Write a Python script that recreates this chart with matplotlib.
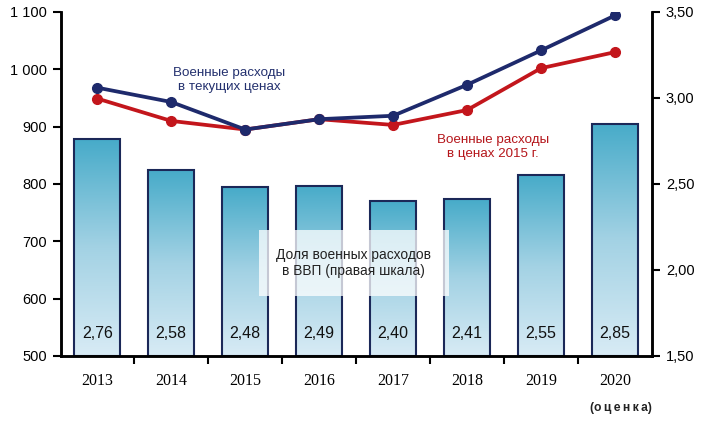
import numpy as np
import matplotlib.pyplot as plt
from matplotlib.colors import LinearSegmentedColormap

years = ['2013', '2014', '2015', '2016', '2017', '2018', '2019', '2020']
share_gdp = [2.76, 2.58, 2.48, 2.49, 2.40, 2.41, 2.55, 2.85]
share_labels = ['2,76', '2,58', '2,48', '2,49', '2,40', '2,41', '2,55', '2,85']
spend_current = [968, 943, 895, 913, 919, 973, 1033, 1094]
spend_2015 = [949, 910, 895, 913, 903, 929, 1002, 1030]

left_ticks = [500, 600, 700, 800, 900, 1000, 1100]
left_labels = ['500', '600', '700', '800', '900', '1 000', '1 100']
right_ticks = [1.5, 2.0, 2.5, 3.0, 3.5]
right_labels = ['1,50', '2,00', '2,50', '3,00', '3,50']

plt.rcParams['font.family'] = ['Liberation Sans', 'DejaVu Sans']

fig = plt.figure(figsize=(7.02, 4.22), dpi=100)
ax = fig.add_axes([0.0869, 0.1564, 0.8419, 0.8152])   # bars, right scale
ax2 = ax.twinx()                                      # lines, left scale

x = np.arange(len(years))
w = 0.62
cmap = LinearSegmentedColormap.from_list('bar', ['#d8ebf5', '#a3d2e4', '#47abc9'])
grad = np.linspace(0, 1, 256).reshape(-1, 1)
for xi, v in zip(x, share_gdp):
    ax.imshow(grad, extent=(xi - w / 2, xi + w / 2, 1.5, v), origin='lower',
              cmap=cmap, aspect='auto', zorder=1)
ax.bar(x, np.array(share_gdp) - 1.5, bottom=1.5, width=w, fill=False,
       edgecolor='#1b2858', linewidth=1.5, zorder=2)
for xi, lab in zip(x, share_labels):
    ax.text(xi, 1.59, lab, ha='center', va='bottom', fontsize=11.5, color='#111111', zorder=3)

ax.set_xlim(-0.49, 7.5)
ax.set_ylim(1.5, 3.5)
ax.yaxis.tick_right()
ax.set_yticks(right_ticks)
ax.set_yticklabels(right_labels, fontsize=10.5)
ax.set_xticks(x)
ax.set_xticklabels(years, fontfamily='Liberation Serif', fontsize=11.5)
ax.set_xticks(np.arange(0.5, 7.5, 1.0), minor=True)
ax.tick_params(axis='x', which='major', length=0, pad=12)
ax.tick_params(axis='x', which='minor', length=6, width=1.5, direction='out')
ax.tick_params(axis='y', length=6, width=1.5, direction='out', pad=4)

ax2.plot(x, spend_current, color='#1e2a6c', lw=2.7, marker='o', ms=7, zorder=5)
ax2.plot(x, spend_2015, color='#c3161c', lw=2.7, marker='o', ms=7, zorder=4)
ax2.set_ylim(500, 1100)
ax2.yaxis.tick_left()
ax2.set_yticks(left_ticks)
ax2.set_yticklabels(left_labels, fontsize=10.5)
ax2.tick_params(axis='y', length=6, width=1.5, direction='out', pad=4)

for a in (ax, ax2):
    a.spines['top'].set_visible(False)
    for s in ('left', 'right', 'bottom'):
        a.spines[s].set_linewidth(1.8)

ax2.text(1.78, 982, 'Военные расходы\nв текущих ценах', ha='center', va='center',
         fontsize=9.6, color='#23306e', linespacing=1.25)
ax2.text(5.35, 865, 'Военные расходы\nв ценах 2015 г.', ha='center', va='center',
         fontsize=9.6, color='#b5161b', linespacing=1.25)
ax2.text(3.47, 662, 'Доля военных расходов\nв ВВП (правая шкала)', ha='center', va='center',
         fontsize=9.9, color='#222222', linespacing=1.25, zorder=6,
         bbox=dict(boxstyle='square,pad=1.3', facecolor='white', edgecolor='none', alpha=0.75))
ax.text(7.08, -0.15, '(о\u2009ц\u2009е\u2009н\u2009к\u2009а)',
        transform=ax.get_xaxis_transform(),
        ha='center', va='center', fontsize=8.7, fontweight='bold', color='#222222')

fig.savefig('out.png', dpi=100)
